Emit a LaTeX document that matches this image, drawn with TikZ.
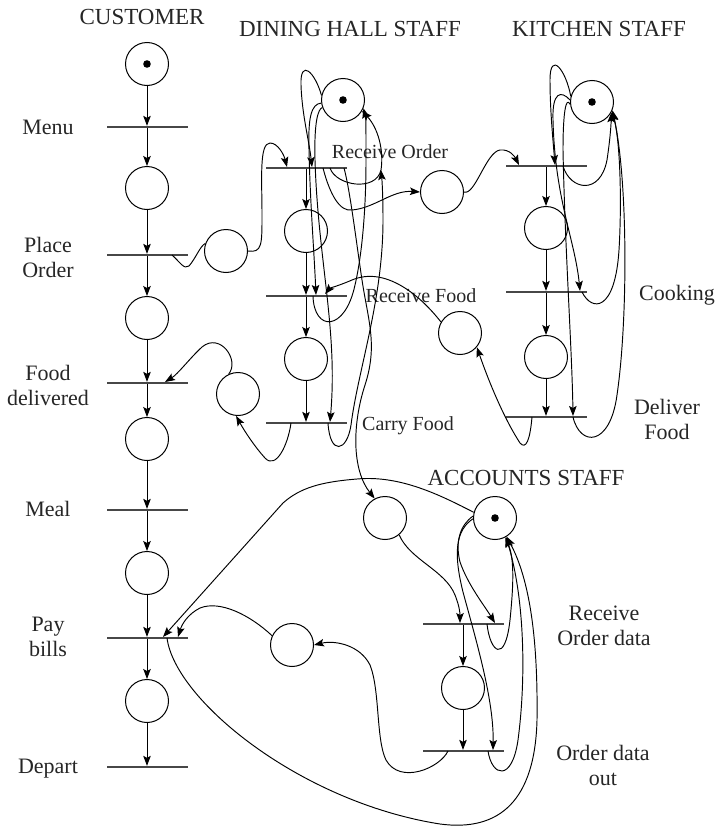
\documentclass[tikz,border=0pt]{standalone}
\usepackage{fontspec}
\setmainfont{Liberation Serif}
\usetikzlibrary{arrows.meta,calc}
\begin{document}
\begin{tikzpicture}[x=1pt,y=-1pt,
  place/.style={circle,draw,line width=1pt,minimum size=43pt,inner sep=0pt},
  trans/.style={draw=none,fill=black!72,minimum width=81pt,minimum height=1.9pt,inner sep=0pt},
  arc/.style={line width=0.95pt,-{Stealth[length=10pt,width=7.5pt,inset=2pt]}},
  ln/.style={line width=0.95pt},
  ttl/.style={font=\fontsize{23}{26}\selectfont,text=black!85},
  lbl/.style={font=\fontsize{22}{25}\selectfont,align=center,text=black!85},
  slbl/.style={font=\fontsize{20}{23}\selectfont,text=black!85},
]
\useasboundingbox (0,0) rectangle (719,827);

% ---------- titles ----------
\node[ttl] (hCust) at (142,17) {CUSTOMER};
\node[ttl] (hDin) at (350,29) {DINING HALL STAFF};
\node[ttl] (hKit) at (599,29) {KITCHEN STAFF};
\node[ttl] (hAcc) at (526,478) {ACCOUNTS STAFF};

% ---------- customer ----------
\node[place] (c0) at (147,64) {};
\node[trans] (tMenu) at (147,127) {};
\node[place] (c1) at (147,188) {};
\node[trans] (tPlace) at (147,255) {};
\node[place] (c2) at (147,318) {};
\node[trans] (tFood) at (147,383) {};
\node[place] (c3) at (147,439) {};
\node[trans] (tMeal) at (147,510) {};
\node[place] (c4) at (147,573) {};
\node[trans] (tPay) at (147,638) {};
\node[place] (c5) at (147,701) {};
\node[trans] (tDep) at (147,767) {};

\node[lbl] (lMenu) at (48,127) {Menu};
\node[lbl] (lPlace) at (48,257) {Place\\Order};
\node[lbl] (lFood) at (48,385) {Food\\delivered};
\node[lbl] (lMeal) at (48,509) {Meal};
\node[lbl] (lPay) at (48,637) {Pay\\bills};
\node[lbl] (lDep) at (48,769) {Depart};

% ---------- dining hall ----------
\node[place] (d0) at (343,100) {};
\node[trans] (tRO) at (306,168) {};
\node[place] (d1) at (306,231) {};
\node[trans] (tRF) at (306,296) {};
\node[place] (d2) at (306,359) {};
\node[trans] (tCF) at (306,423) {};

\node[place] (pOrd) at (226,251) {};
\node[place] (pDel) at (238,394) {};
\node[place] (pKit) at (442,192) {};
\node[place] (pFood) at (460,333) {};

\node[slbl] (lRO) at (390,152) {Receive Order};
\node[slbl] (lRF) at (421,296) {Receive Food};
\node[slbl] (lCF) at (408,426) {Carry Food};

% ---------- kitchen ----------
\node[place] (k0) at (592,102) {};
\node[trans] (tKRO) at (546,166) {};
\node[place] (k1) at (546,228) {};
\node[trans] (tCook) at (546,292) {};
\node[place] (k2) at (546,357) {};
\node[trans] (tDel) at (546,417) {};

\node[lbl] (lCook) at (677,295) {Cooking};
\node[lbl] (lDel) at (667,419) {Deliver\\Food};

% ---------- accounts ----------
\node[place] (aIn) at (385,518) {};
\node[place] (a0) at (495,518) {};
\node[trans] (tROD) at (463,624) {};
\node[place] (a1) at (463,688) {};
\node[trans] (tODO) at (463,751) {};
\node[place] (pPay) at (292,645) {};

\node[lbl] (lROD) at (604,626) {Receive\\Order data};
\node[lbl] (lODO) at (603,765) {Order data\\out};

% ---------- tokens ----------
\foreach \p in {c0,d0,k0,a0} \fill (\p) circle (3.8);

% ---------- customer chain ----------
\draw[arc] (c0) -- (tMenu);
\draw[arc] (tMenu) -- (c1);
\draw[arc] (c1) -- (tPlace);
\draw[arc] (tPlace) -- (c2);
\draw[arc] (c2) -- (tFood);
\draw[arc] (tFood) -- (c3);
\draw[arc] (c3) -- (tMeal);
\draw[arc] (tMeal) -- (c4);
\draw[arc] (c4) -- (tPay);
\draw[arc] (tPay) -- (c5);
\draw[arc] (c5) -- (tDep);

% place order -> order place -> receive order
\draw[ln] ($(tPlace)+(25,0)$) .. controls (180,262) and (184,270) .. (189,266) .. controls (196,258) and (200,246) .. (pOrd.160);
\draw[arc] (pOrd.east) .. controls (262,253) and (262,245) .. (262,215) .. controls (262,180) and (259,143) .. (270,143) .. controls (278,143) and (284,155) .. ($(tRO)+(-19,-1)$);

% ---------- dining chain ----------
\draw[arc] (tRO) -- (d1);
\draw[arc] (d1) -- (tRF);
\draw[arc] (tRF) -- (d2);
\draw[arc] (d2) -- (tCF);

% staff d0 to transitions
\draw[arc] (d0.168) .. controls (315,72) and (300,58) .. (301,85) .. controls (302,115) and (309,140) .. ($(tRO)+(6,-1)$);
\draw[arc] (d0.188) .. controls (311,104) and (308,118) .. (309,150) .. controls (310,200) and (314,250) .. ($(tRF)+(10,-1)$);
\draw[arc] (d0.200) .. controls (318,109) and (314,122) .. (315,160) .. controls (318,260) and (338,330) .. ($(tCF)+(24,-1)$);

% transitions back to d0
\coordinate (j1) at (381,170);
\draw[ln] ($(tRO)+(24,0)$) .. controls (336,186) and (376,192) .. (j1);
\draw[arc] (j1) .. controls (384,150) and (378,128) .. (d0.-30);
\draw[arc] ($(tCF)+(22,0)$) .. controls (330,456) and (347,452) .. (351,425) .. controls (358,370) and (383,300) .. (383,220) .. controls (383,195) and (382,180) .. (j1);
\draw[arc] ($(tRF)+(7,0)$) .. controls (314,332) and (345,332) .. (355,285) .. controls (362,255) and (366,210) .. (366,160) .. controls (366,130) and (366,118) .. (d0.-22);

% receive order -> accounts order data
\draw[arc] ($(tRO)+(38,0)$) .. controls (350,190) and (356,240) .. (362,280) .. controls (368,320) and (378,345) .. (365,385) .. controls (352,425) and (352,470) .. (aIn.118);

% receive order -> kitchen order
\draw[arc] ($(tRO)+(17,0)$) .. controls (330,195) and (340,212) .. (352,210) .. controls (375,208) and (392,190) .. (pKit.west);

% kitchen -> food -> receive food
\draw[arc] (pFood.150) .. controls (420,295) and (385,266) .. (352,280) .. controls (338,286) and (330,288) .. ($(tRF)+(19,-2)$);

% carry food -> delivered place -> food delivered
\draw[arc] ($(tCF)+(-15,0)$) .. controls (288,445) and (276,470) .. (265,458) .. controls (255,447) and (245,432) .. (pDel.-95);
\draw[arc] (pDel.115) .. controls (240,360) and (220,332) .. (202,347) .. controls (190,358) and (178,374) .. ($(tFood)+(18,-1)$);

% ---------- kitchen ----------
\draw[arc] (pKit.east) .. controls (475,196) and (486,152) .. (500,150) .. controls (510,149) and (515,157) .. ($(tKRO)+(-27,-1)$);
\draw[arc] (tKRO) -- (k1);
\draw[arc] (k1) -- (tCook);
\draw[arc] (tCook) -- (k2);
\draw[arc] (k2) -- (tDel);

\draw[arc] (k0.165) .. controls (566,70) and (550,50) .. (550,80) .. controls (550,110) and (553,140) .. ($(tKRO)+(9,-1)$);
\draw[arc] (k0.175) .. controls (561,90) and (552,92) .. (553,120) .. controls (555,200) and (575,240) .. ($(tCook)+(34,-1)$);
\draw[arc] (k0.186) .. controls (566,96) and (563,112) .. (563,150) .. controls (565,250) and (572,350) .. ($(tDel)+(27,-1)$);

\draw[arc] ($(tKRO)+(17,0)$) .. controls (570,190) and (600,196) .. (607,160) .. controls (610,140) and (611,126) .. (k0.-28);
\draw[arc] ($(tCook)+(36,0)$) .. controls (592,312) and (615,312) .. (619,250) .. controls (622,200) and (620,140) .. (k0.-25);
\draw[arc] ($(tDel)+(27,0)$) .. controls (580,447) and (610,447) .. (617,395) .. controls (628,320) and (628,180) .. (k0.-22);

\draw[arc] ($(tDel)+(-14,0)$) .. controls (530,440) and (526,450) .. (520,443) .. controls (505,420) and (490,385) .. (pFood.-40);

% ---------- accounts ----------
\draw[arc] (aIn.-50) .. controls (410,560) and (445,570) .. (455,595) .. controls (459,605) and (460,612) .. ($(tROD)+(-3,-1)$);
\draw[arc] (a0.175) .. controls (460,525) and (455,542) .. (460,562) .. controls (468,585) and (484,605) .. ($(tROD)+(32,-1)$);
\draw[arc] (a0.182) .. controls (456,530) and (453,552) .. (463,592) .. controls (476,640) and (494,700) .. ($(tODO)+(30,-1)$);
\draw[arc] (tROD) -- (a1);
\draw[arc] (a1) -- (tODO);

\draw[arc] ($(tROD)+(24,0)$) .. controls (490,652) and (505,665) .. (510,620) .. controls (513,590) and (515,560) .. (a0.-62);
\draw[arc] ($(tODO)+(25,0)$) .. controls (492,777) and (512,782) .. (518,740) .. controls (526,680) and (525,600) .. (a0.-60);
\draw[arc] ($(tPay)+(20,0)$) .. controls (175,700) and (300,802) .. (440,824) .. controls (500,832) and (535,800) .. (537,720) .. controls (538,640) and (530,580) .. (a0.-58);

\draw[arc] ($(tODO)+(-15,0)$) .. controls (440,768) and (400,785) .. (386,760) .. controls (376,740) and (380,690) .. (370,665) .. controls (360,645) and (335,640) .. (pPay.east);
\draw[arc] (pPay.155) .. controls (250,615) and (220,600) .. (200,608) .. controls (188,614) and (182,624) .. ($(tPay)+(31,-1)$);
\draw[arc] (a0.165) .. controls (440,495) and (400,475) .. (357,479) .. controls (320,482) and (300,488) .. (283,503) -- ($(tPay)+(16,-1)$);

\end{tikzpicture}
\end{document}
